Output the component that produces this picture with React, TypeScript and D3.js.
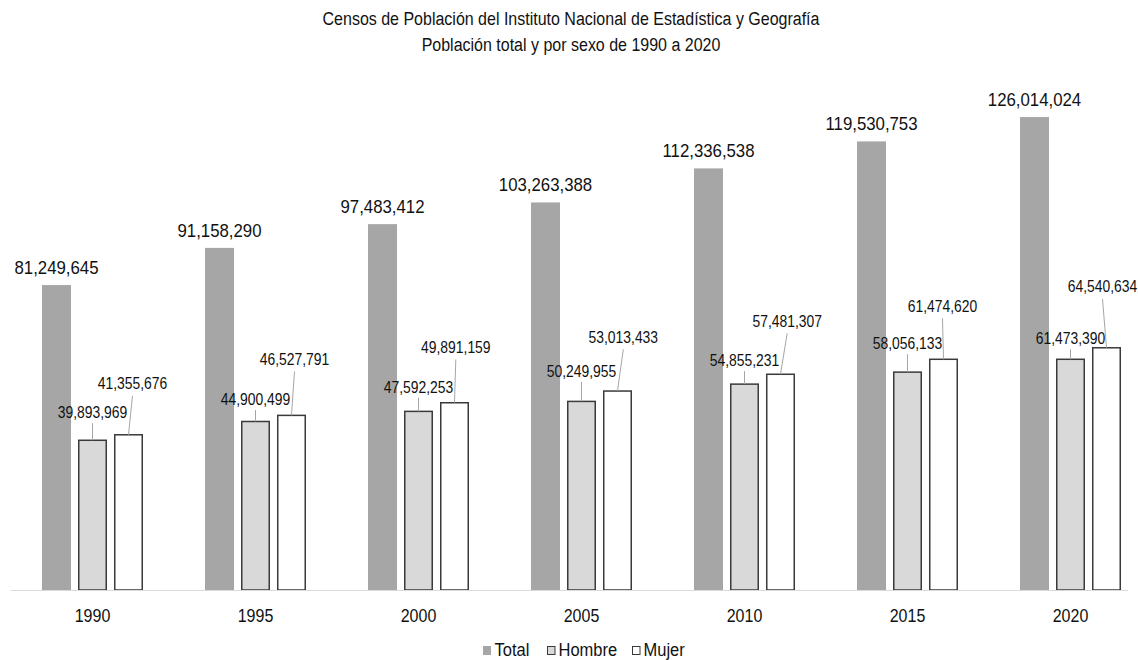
import React from 'react';
import * as d3 from 'd3';

// ---- data ----
const years = ['1990', '1995', '2000', '2005', '2010', '2015', '2020'];
const total = [81249645, 91158290, 97483412, 103263388, 112336538, 119530753, 126014024];
const hombre = [39893969, 44900499, 47592253, 50249955, 54855231, 58056133, 61473390];
const mujer = [41355676, 46527791, 49891159, 53013433, 57481307, 61474620, 64540634];
const seriesNames = ['Total', 'Hombre', 'Mujer'];
const titleLines = [
  'Censos de Población del Instituto Nacional de Estadística y Geografía',
  'Población total y por sexo de 1990 a 2020',
];

// ---- layout of the hand-placed data labels (px) ----
const hombreRise = [22, 16.5, 18.7, 24.5, 18, 23, 15];
const mujerRise = [45.5, 50.3, 49.7, 48.3, 47.5, 47.5, 55.4];
const mujerDx = [4, 3, 1.3, 5.8, 6.7, -1, -4];

const W = 1138;
const H = 660;
const FONT = '"Liberation Sans", Arial, Helvetica, sans-serif';
const STRETCH = 1.13;
const fmt = d3.format(',');

const fills: Record<string, string> = { Total: '#a6a6a6', Hombre: '#d9d9d9', Mujer: '#ffffff' };
const strokes: Record<string, string> = { Total: 'none', Hombre: '#3a3a3a', Mujer: '#3a3a3a' };

function T(props: {
  x: number;
  y: number;
  size: number;
  anchor?: 'start' | 'middle' | 'end';
  stretch?: number;
  children: React.ReactNode;
}) {
  const s = props.stretch ?? STRETCH;
  return (
    <text
      transform={`translate(${props.x},${props.y}) scale(1,${s})`}
      textAnchor={props.anchor || 'start'}
      fontSize={props.size}
      fill="#111"
    >
      {props.children}
    </text>
  );
}

export default function App() {
  const baseY = 590;
  const y = d3.scaleLinear().domain([0, 140e6]).range([baseY, baseY - 140 * 3.753]);
  const x0 = d3
    .scaleBand<string>()
    .domain(years)
    .range([11, 1152])
    .paddingInner(0.3804)
    .paddingOuter(0.1902);
  const x1 = d3
    .scaleBand<string>()
    .domain(seriesNames)
    .range([0, x0.bandwidth()])
    .paddingInner(0.1944)
    .paddingOuter(0);

  const seriesVals: Record<string, number[]> = { Total: total, Hombre: hombre, Mujer: mujer };
  const legendX = [483, 547, 632];

  return (
    <svg
      width={W}
      height={H}
      style={{ position: 'absolute', left: 0, top: 0, background: '#fff' }}
      fontFamily={FONT}
    >
      <rect x={0} y={0} width={W} height={H} fill="#fff" />
      {titleLines.map((t, i) => (
        <T key={i} x={571} y={25 + i * 26} size={16} anchor="middle">
          {t}
        </T>
      ))}

      {/* bars */}
      {years.map((yr, i) => (
        <g key={yr} transform={`translate(${x0(yr)},0)`}>
          {seriesNames.map((s) => {
            const v = seriesVals[s][i];
            const bx = x1(s)!;
            const bw = x1.bandwidth();
            const top = y(v);
            const hasStroke = strokes[s] !== 'none';
            return (
              <rect
                key={s}
                x={hasStroke ? bx + 0.75 : bx}
                y={top}
                width={hasStroke ? bw - 1.5 : bw}
                height={baseY - top}
                fill={fills[s]}
                stroke={strokes[s]}
                strokeWidth={hasStroke ? 1.5 : 0}
              />
            );
          })}
        </g>
      ))}

      {/* axis line */}
      <line x1={11} x2={1128} y1={baseY + 0.5} y2={baseY + 0.5} stroke="#d9d9d9" strokeWidth={1} />

      {/* axis labels */}
      {years.map((yr) => (
        <T key={yr} x={x0(yr)! + x0.bandwidth() / 2} y={621.7} size={16} anchor="middle">
          {yr}
        </T>
      ))}

      {/* data labels */}
      {years.map((yr, i) => {
        const gx = x0(yr)!;
        const bw = x1.bandwidth();
        const tx = gx + x1('Total')! + bw / 2;
        const hx = gx + x1('Hombre')! + bw / 2;
        const mx = gx + x1('Mujer')! + bw / 2;
        const tTop = y(total[i]);
        const hTop = y(hombre[i]);
        const mTop = y(mujer[i]);
        const hBase = hTop - hombreRise[i];
        const mBase = mTop - mujerRise[i];
        const mLx = mx + mujerDx[i];
        return (
          <g key={yr}>
            <T x={tx} y={tTop - 11} size={16.8} anchor="middle">
              {fmt(total[i])}
            </T>
            <line x1={hx} x2={hx} y1={hBase + 5} y2={hTop} stroke="#a6a6a6" strokeWidth={1} />
            <T x={hx} y={hBase} size={13.9} anchor="middle">
              {fmt(hombre[i])}
            </T>
            <line x1={mLx} x2={mx} y1={mBase + 6.5} y2={mTop} stroke="#a6a6a6" strokeWidth={1} />
            <T x={mLx} y={mBase} size={13.9} anchor="middle">
              {fmt(mujer[i])}
            </T>
          </g>
        );
      })}

      {/* legend */}
      {seriesNames.map((s, i) => {
        const lx = legendX[i];
        const hasStroke = strokes[s] !== 'none';
        return (
          <g key={s}>
            <rect
              x={hasStroke ? lx + 0.5 : lx}
              y={hasStroke ? 646.5 : 646}
              width={hasStroke ? 7.5 : 8}
              height={hasStroke ? 8 : 9}
              fill={fills[s]}
              stroke={strokes[s]}
              strokeWidth={hasStroke ? 1 : 0}
            />
            <T x={lx + 11.5} y={655.5} size={16.5} stretch={1.06}>
              {s}
            </T>
          </g>
        );
      })}
    </svg>
  );
}
